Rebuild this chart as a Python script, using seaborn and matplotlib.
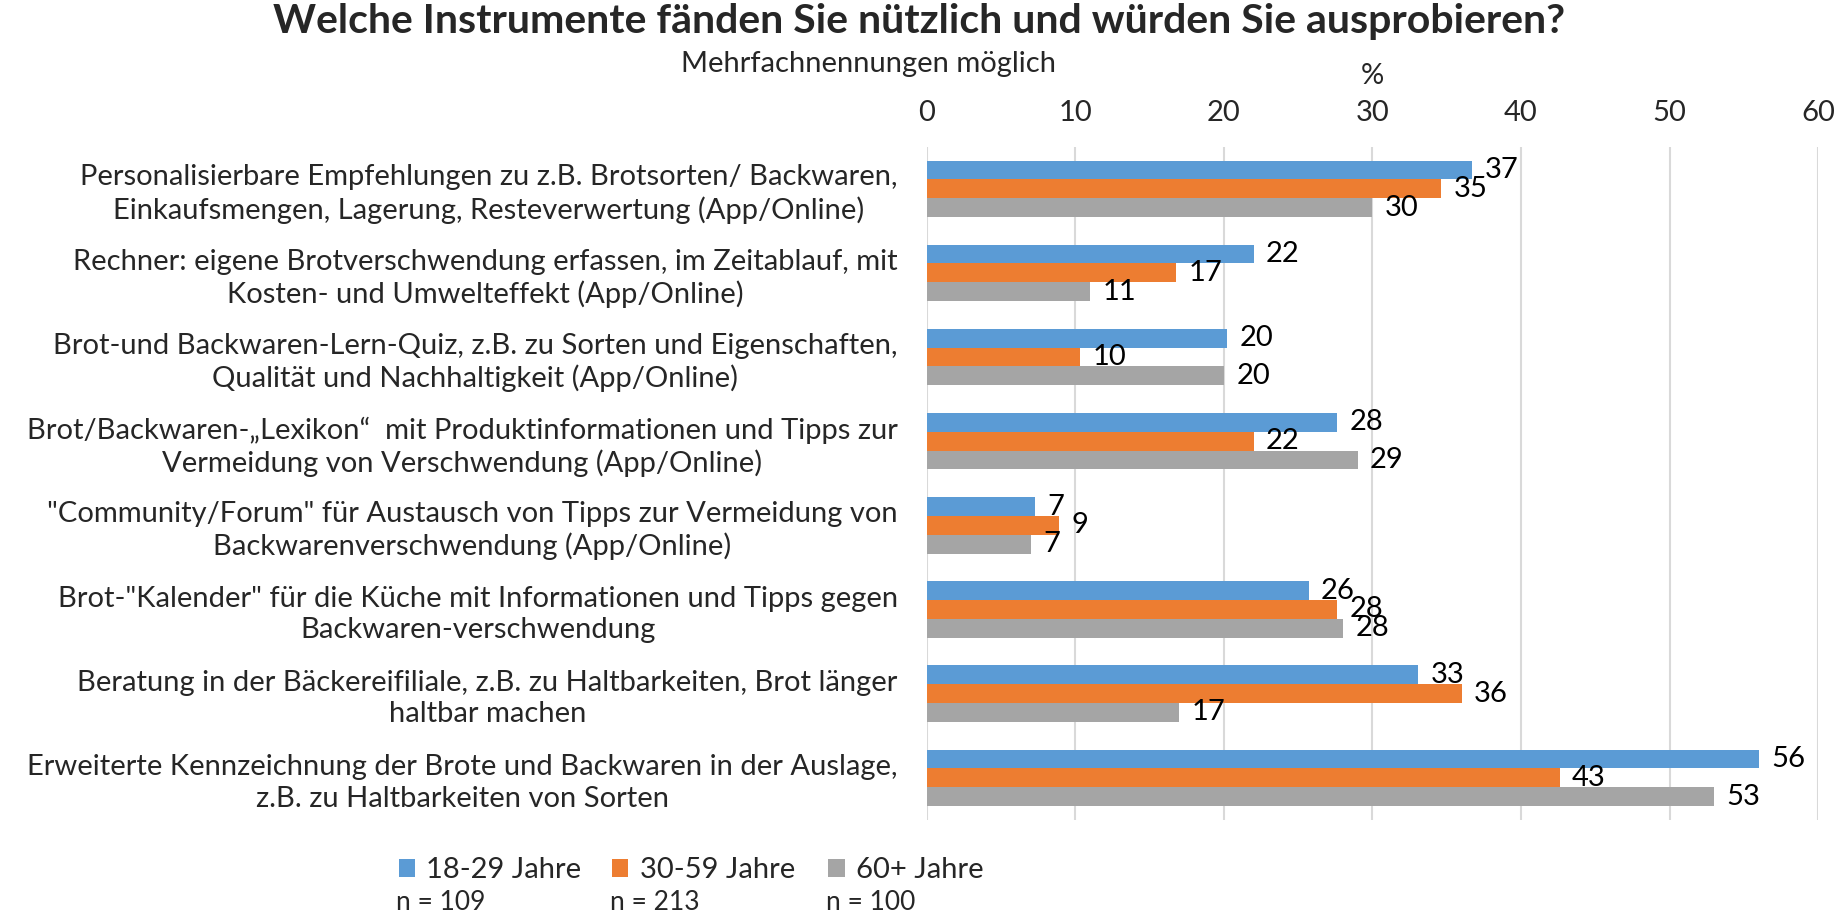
import pandas as pd
import matplotlib.pyplot as plt
import seaborn as sns

# Chart data
categories = [
    "Personalisierbare Empfehlungen zu z.B. Brotsorten/ Backwaren,\nEinkaufsmengen, Lagerung, Resteverwertung (App/Online)",
    "Rechner: eigene Brotverschwendung erfassen, im Zeitablauf, mit\nKosten- und Umwelteffekt (App/Online)",
    "Brot-und Backwaren-Lern-Quiz, z.B. zu Sorten und Eigenschaften,\nQualität und Nachhaltigkeit (App/Online)",
    "Brot/Backwaren-„Lexikon“  mit Produktinformationen und Tipps zur\nVermeidung von Verschwendung (App/Online)",
    "\"Community/Forum\" für Austausch von Tipps zur Vermeidung von\nBackwarenverschwendung (App/Online)",
    "Brot-\"Kalender\" für die Küche mit Informationen und Tipps gegen\nBackwaren-verschwendung",
    "Beratung in der Bäckereifiliale, z.B. zu Haltbarkeiten, Brot länger\nhaltbar machen",
    "Erweiterte Kennzeichnung der Brote und Backwaren in der Auslage,\nz.B. zu Haltbarkeiten von Sorten",
]
groups = ["18-29 Jahre", "30-59 Jahre", "60+ Jahre"]
group_n = ["n = 109", "n = 213", "n = 100"]
values_18_29 = [36.7, 22.0, 20.2, 27.6, 7.3, 25.7, 33.1, 56.0]
values_30_59 = [34.6, 16.8, 10.3, 22.0, 8.9, 27.6, 36.0, 42.6]
values_60plus = [30.0, 11.0, 20.0, 29.0, 7.0, 28.0, 17.0, 53.0]
colors = ["#5B9BD5", "#ED7D31", "#A5A5A5"]

rows = []
for grp, vals in zip(groups, [values_18_29, values_30_59, values_60plus]):
    for cat, v in zip(categories, vals):
        rows.append({"Kategorie": cat, "Gruppe": grp, "Wert": v})
df = pd.DataFrame(rows)

sns.set_style("white")
plt.rcParams["font.family"] = ["Lato", "DejaVu Sans"]
FS = 21

fig = plt.figure(figsize=(18.39, 9.13), dpi=100)
ax = fig.add_axes([0.504, 0.102, 0.4846, 0.7374])

sns.barplot(data=df, y="Kategorie", x="Wert", hue="Gruppe", orient="h",
            palette=colors, width=0.67, gap=0, linewidth=0, saturation=1,
            ax=ax)

handles, labels = ax.get_legend_handles_labels()
ax.get_legend().remove()

# Data labels
for cont in ax.containers:
    ax.bar_label(cont, fmt="{:.0f}", padding=9, fontsize=FS, color="black")

ax.set_xlim(0, 60)
ax.set_xticks(range(0, 61, 10))
ax.xaxis.tick_top()
ax.tick_params(axis="x", length=0, pad=15, labelsize=FS)
ax.tick_params(axis="y", length=0, pad=21, labelsize=FS)
for t in ax.get_yticklabels():
    t.set_multialignment("center")
    t.set_linespacing(1.25)
ax.set_xlabel("")
ax.set_ylabel("")
ax.grid(axis="x", color="#D9D9D9", linewidth=1.5)
ax.grid(axis="y", visible=False)
ax.set_axisbelow(True)
for s in ax.spines.values():
    s.set_visible(False)

fig.text(0.4995, 0.976, "Welche Instrumente fänden Sie nützlich und würden Sie ausprobieren?",
         ha="center", va="center", fontsize=29.5, fontweight="bold")
fig.text(0.4725, 0.930, "Mehrfachnennungen möglich", ha="center", va="center", fontsize=FS)
fig.text(0.7462, 0.917, "%", ha="center", va="center", fontsize=FS)

# Legend entries with sample sizes below
leg_x = [0.2168, 0.333, 0.4505]
for h, lab, n, x in zip(handles, labels, group_n, leg_x):
    fig.legend(handles=[h], labels=[lab], loc="center left", bbox_to_anchor=(x, 0.047),
               frameon=False, borderpad=0, borderaxespad=0, handlelength=0.55,
               handleheight=0.55, handletextpad=0.4, fontsize=FS)
    fig.text(x - 0.0012, 0.012, n, ha="left", va="center", fontsize=19)

fig.savefig("out.png", dpi=100)
